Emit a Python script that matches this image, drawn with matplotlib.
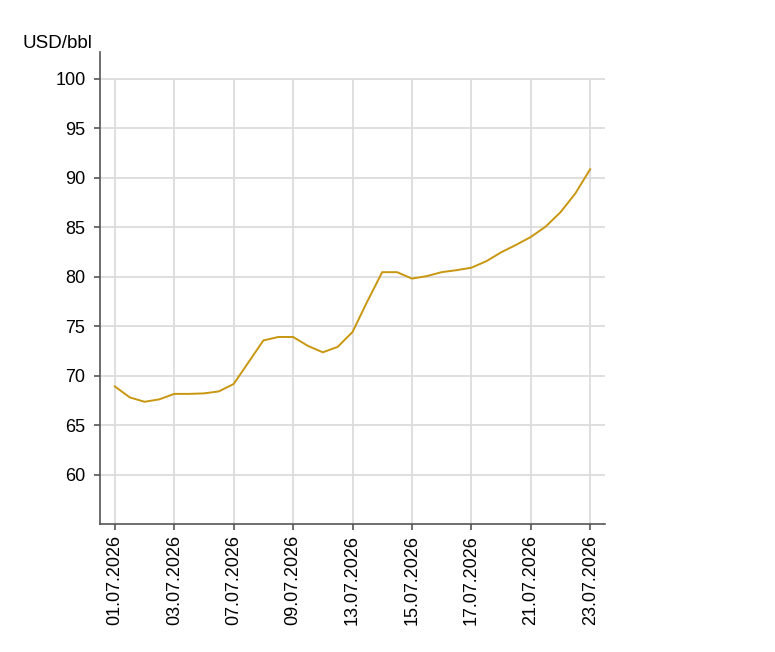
import numpy as np
import matplotlib.pyplot as plt

plt.rcParams['font.family'] = ['Liberation Sans', 'DejaVu Sans']

# price series, two readings per business day
values = [68.9, 67.8, 67.35, 67.6, 68.15, 68.15, 68.2, 68.4, 69.15, 71.35,
          73.55, 73.9, 73.9, 73.0, 72.35, 72.9, 74.4, 77.5, 80.45, 80.45,
          79.8, 80.05, 80.45, 80.65, 80.9, 81.55, 82.45, 83.2, 84.0, 85.05,
          86.5, 88.4, 90.85]
tick_labels = ["01.07.2026", "03.07.2026", "07.07.2026", "09.07.2026", "13.07.2026",
               "15.07.2026", "17.07.2026", "21.07.2026", "23.07.2026"]
y_ticks = [60, 65, 70, 75, 80, 85, 90, 95, 100]
unit = "USD/bbl"

x = np.arange(len(values))
tick_pos = x[::4]

W, H = 775, 652
fig = plt.figure(figsize=(W / 100, H / 100), dpi=100)
ax = fig.add_axes([100 / W, 1 - 524 / H, 505 / W, 472 / H])

ax.set_xlim(-1, 33)
ax.set_ylim(55, 102.7)

grid_c = '#dcdcdc'
ax.hlines(y_ticks, -1, 33, color=grid_c, lw=1.3, zorder=1)
ax.vlines(tick_pos, 55, 100, color=grid_c, lw=1.3, zorder=1)

ax.plot(x, values, color='#c8960f', lw=1.4, zorder=3)

for s in ['top', 'right']:
    ax.spines[s].set_visible(False)
for s in ['left', 'bottom']:
    ax.spines[s].set_color('#555555')
    ax.spines[s].set_linewidth(1.2)

ax.set_yticks(y_ticks)
ax.set_yticklabels([str(v) for v in y_ticks])
ax.set_xticks(tick_pos)
ax.set_xticklabels(tick_labels, rotation=90)
ax.tick_params(axis='both', direction='out', length=4.5, width=1.2, color='#555555',
               labelsize=13, labelcolor='black')
ax.tick_params(axis='y', pad=6)
ax.tick_params(axis='x', pad=3.5)

fig.text(23 / W, 1 - 48 / H, unit, fontsize=13.5, ha='left', va='baseline')

fig.savefig('out.png', dpi=100)
